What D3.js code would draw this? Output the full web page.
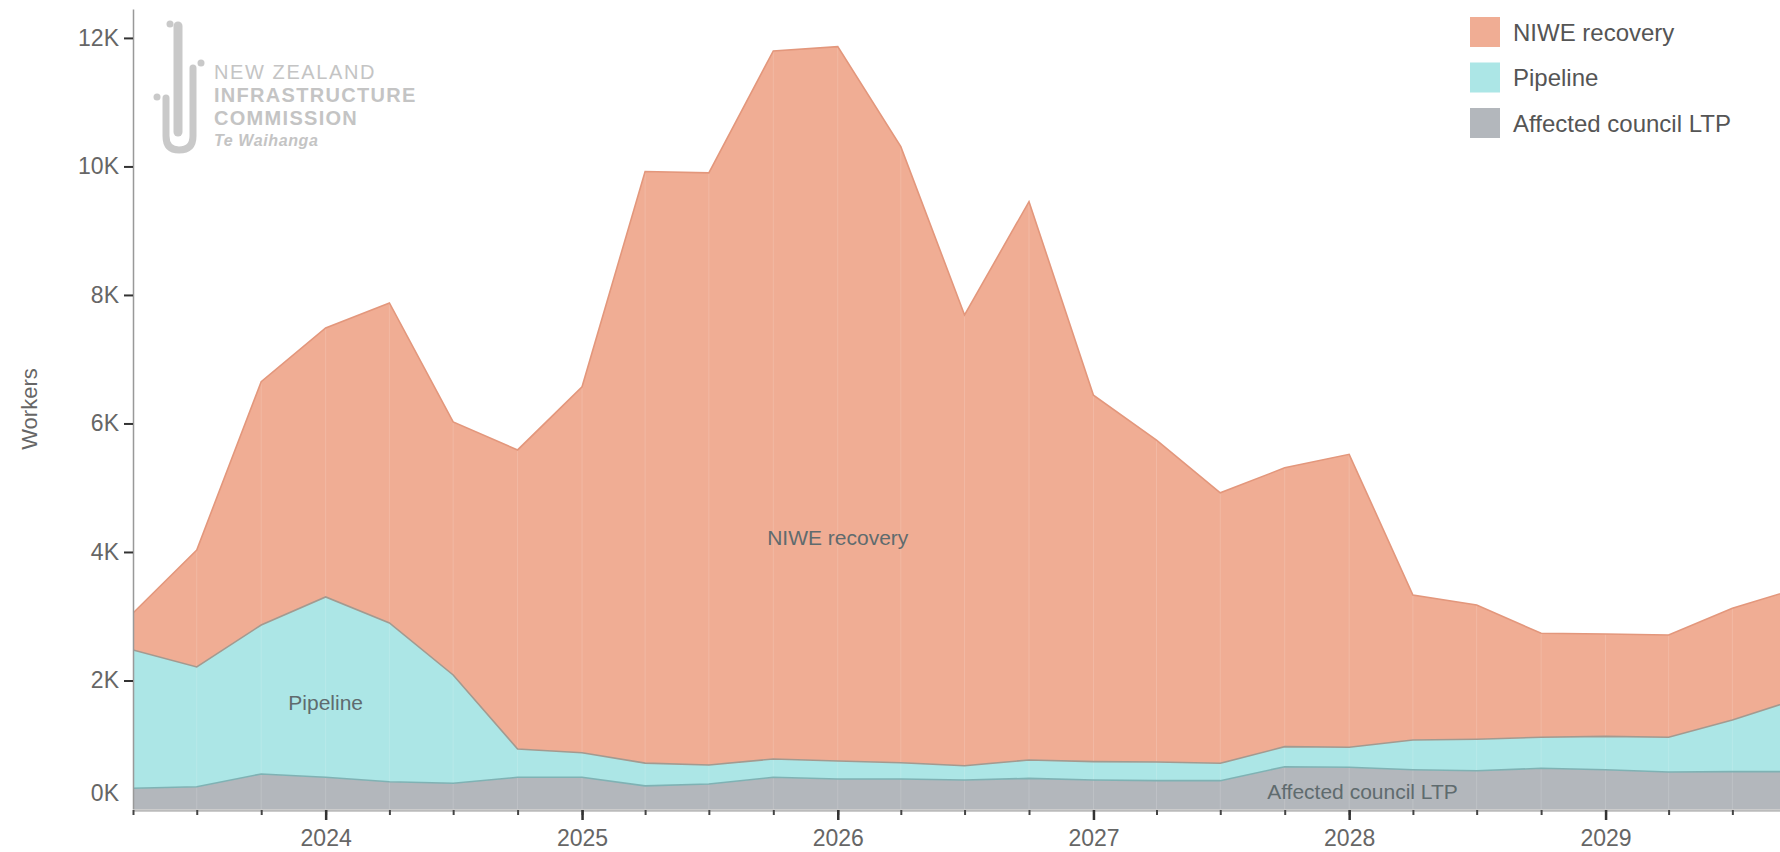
<!DOCTYPE html>
<html>
<head>
<meta charset="utf-8">
<script src="https://cdn.jsdelivr.net/npm/d3@7"></script>
<style>
  body { margin: 0; background: #fff; }
  svg { display: block; font-family: "Liberation Sans", Arial, sans-serif; }
</style>
</head>
<body>
<div id="chart"></div>
<script>
// quarterly data (workers)
const quarters = [
  "2023-04-01", "2023-07-01", "2023-10-01", "2024-01-01", "2024-04-01", "2024-07-01",
  "2024-10-01", "2025-01-01", "2025-04-01", "2025-07-01", "2025-10-01", "2026-01-01",
  "2026-04-01", "2026-07-01", "2026-10-01", "2027-01-01", "2027-04-01", "2027-07-01",
  "2027-10-01", "2028-01-01", "2028-04-01", "2028-07-01", "2028-10-01", "2029-01-01",
  "2029-04-01", "2029-07-01", "2029-10-01"
];
const affectedLTP = [
  322, 347, 545, 493, 425, 400, 493, 493, 360, 389, 493, 467, 467, 451,
  477, 451, 441, 441, 658, 649, 612, 596, 633, 612, 575, 581, 581
];
const pipeline = [
  2153, 1863, 2319, 2807, 2470, 1686, 441, 383, 354, 296, 285, 280, 253, 223,
  286, 286, 291, 270, 312, 311, 462, 489, 483, 518, 541, 804, 1129
];
const niweRecovery = [
  575, 1821, 3786, 4186, 4980, 3937, 4654, 5694, 9206, 9214, 11020, 11118, 9588, 7015,
  8689, 5703, 5008, 4209, 4340, 4560, 2257, 2090, 1618, 1594, 1592, 1739, 1720
];

const seriesKeys = ["Affected council LTP", "Pipeline", "NIWE recovery"];
const legendOrder = ["NIWE recovery", "Pipeline", "Affected council LTP"];
const yTickValues = [0, 2000, 4000, 6000, 8000, 10000, 12000];

// labels inside the areas
const areaLabels = [
  { text: "NIWE recovery", date: "2026-01-01", value: 4220 },
  { text: "Pipeline", date: "2024-01-01", value: 1650 },
  { text: "Affected council LTP", date: "2028-01-20", value: 280 }
];

const colors = {
  "NIWE recovery": "#f0ad94",
  "Pipeline": "#ace6e6",
  "Affected council LTP": "#b3b7bc"
};
const strokes = {
  "NIWE recovery": "#e3977c",
  "Pipeline": "#a39a90",
  "Affected council LTP": "#7fb2b4"
};

const W = 1780, H = 852;
const plotLeft = 133, plotRight = 1780, plotTop = 9, plotBottom = 809;

const parse = d3.timeParse("%Y-%m-%d");
const data = quarters.map((q, i) => ({
  date: parse(q),
  "Affected council LTP": affectedLTP[i],
  "Pipeline": pipeline[i],
  "NIWE recovery": niweRecovery[i]
}));

const svg = d3.select("#chart").append("svg")
  .attr("width", W)
  .attr("height", H);

const x = d3.scaleTime()
  .domain([parse("2023-04-01"), parse("2029-09-07")])
  .range([plotLeft, plotRight]);

const y = d3.scaleLinear()
  .domain([0, 12450])
  .range([plotBottom, plotTop]);

// logo watermark
const logo = svg.append("g").attr("fill", "#c9c9c9").attr("stroke", "#c9c9c9");
logo.append("path")
  .attr("d", "M178,26 L178,132")
  .attr("fill", "none").attr("stroke-width", 9).attr("stroke-linecap", "round");
logo.append("path")
  .attr("d", "M166,98 L166,136 Q166,150 179,150 Q193,150 193,136 L193,68")
  .attr("fill", "none").attr("stroke-width", 7).attr("stroke-linecap", "round");
logo.selectAll("circle")
  .data([[170, 24], [201, 63], [157, 97]])
  .enter().append("circle")
  .attr("cx", d => d[0]).attr("cy", d => d[1]).attr("r", 3.5).attr("stroke", "none");
const logoText = svg.append("g").attr("fill", "#c4c4c4");
logoText.append("text").attr("x", 214).attr("y", 79)
  .style("font-size", "20px").style("letter-spacing", "1.6px")
  .text("NEW ZEALAND");
logoText.append("text").attr("x", 214).attr("y", 102)
  .style("font-size", "20px").style("font-weight", "bold").style("letter-spacing", "1.3px")
  .text("INFRASTRUCTURE");
logoText.append("text").attr("x", 214).attr("y", 125)
  .style("font-size", "20px").style("font-weight", "bold").style("letter-spacing", "1.3px")
  .text("COMMISSION");
logoText.append("text").attr("x", 214).attr("y", 146)
  .style("font-size", "16px").style("font-weight", "bold").style("font-style", "italic")
  .style("letter-spacing", "0.6px")
  .text("Te Waihanga");

// stacked areas
const stack = d3.stack().keys(seriesKeys);
const layers = stack(data);

svg.append("clipPath").attr("id", "plot-clip")
  .append("rect").attr("x", plotLeft).attr("y", 0)
  .attr("width", plotRight - plotLeft).attr("height", plotBottom + 1);

const plot = svg.append("g").attr("clip-path", "url(#plot-clip)");

const area = d3.area()
  .x(d => x(d.data.date))
  .y0(d => y(d[0]))
  .y1(d => y(d[1]));

const topLine = d3.line()
  .x(d => x(d.data.date))
  .y(d => y(d[1]));

plot.selectAll(".layer")
  .data(layers)
  .enter().append("path")
  .attr("class", "layer")
  .attr("d", area)
  .attr("fill", d => colors[d.key]);

// faint seams at each quarter
const totalLayer = layers[layers.length - 1];
plot.selectAll(".seam")
  .data(totalLayer)
  .enter().append("line")
  .attr("class", "seam")
  .attr("x1", d => x(d.data.date)).attr("x2", d => x(d.data.date))
  .attr("y1", y(0)).attr("y2", d => y(d[1]))
  .attr("stroke", "#fff").attr("stroke-opacity", 0.15).attr("stroke-width", 1);

plot.selectAll(".edge")
  .data(layers)
  .enter().append("path")
  .attr("class", "edge")
  .attr("d", topLine)
  .attr("fill", "none")
  .attr("stroke", d => strokes[d.key])
  .attr("stroke-width", 1.6);

// labels on the areas
svg.selectAll(".area-label")
  .data(areaLabels)
  .enter().append("text")
  .attr("class", "area-label")
  .attr("x", d => x(parse(d.date)))
  .attr("y", d => y(d.value))
  .attr("text-anchor", "middle")
  .attr("dominant-baseline", "central")
  .attr("fill", "#5f6b6e")
  .style("font-size", "21px")
  .text(d => d.text);

// y axis
const yAxis = svg.append("g")
  .attr("transform", `translate(${plotLeft},0)`)
  .call(d3.axisLeft(y).tickValues(yTickValues).tickSize(9).tickSizeOuter(0).tickPadding(5)
    .tickFormat(d => (d / 1000) + "K"));
yAxis.select(".domain").attr("stroke", "#999").attr("stroke-width", 1.5);
yAxis.selectAll(".tick line").attr("stroke", "#333").attr("stroke-width", 2);
yAxis.selectAll(".tick text").attr("fill", "#666").style("font-size", "23px")
  .style("font-family", "'Liberation Sans', Arial, sans-serif");
yAxis.selectAll(".tick").filter(d => d === 0).select("line").remove();
yAxis.selectAll(".tick").filter(d => d === 0).select("text").attr("transform", "translate(0,-16)");

// x axis: quarter minor ticks, year major ticks
const xMinor = svg.append("g")
  .attr("transform", `translate(0,${plotBottom + 1})`)
  .call(d3.axisBottom(x).ticks(d3.timeMonth.every(3)).tickSize(5).tickSizeOuter(0).tickFormat(""));
xMinor.select(".domain").attr("stroke", "#bbb").attr("stroke-width", 2.5);
xMinor.selectAll(".tick line").attr("stroke", "#444").attr("stroke-width", 2);

const xMajor = svg.append("g")
  .attr("transform", `translate(0,${plotBottom + 1})`)
  .call(d3.axisBottom(x).ticks(d3.timeYear.every(1)).tickSize(10).tickPadding(10)
    .tickFormat(d3.timeFormat("%Y")));
xMajor.select(".domain").remove();
xMajor.selectAll(".tick line").attr("stroke", "#333").attr("stroke-width", 2.5);
xMajor.selectAll(".tick text").attr("fill", "#666").style("font-size", "23px")
  .style("font-family", "'Liberation Sans', Arial, sans-serif");

// y axis title
svg.append("text")
  .attr("transform", `translate(29,${(plotTop + plotBottom) / 2}) rotate(-90)`)
  .attr("text-anchor", "middle")
  .attr("dominant-baseline", "central")
  .attr("fill", "#666")
  .style("font-size", "22px")
  .text("Workers");

// legend
const legend = svg.append("g").attr("transform", "translate(1470,17)");
const item = legend.selectAll(".item")
  .data(legendOrder)
  .enter().append("g")
  .attr("class", "item")
  .attr("transform", (d, i) => `translate(0,${i * 45.5})`);
item.append("rect")
  .attr("width", 30).attr("height", 30)
  .attr("fill", d => colors[d]);
item.append("text")
  .attr("x", 43).attr("y", 15)
  .attr("dominant-baseline", "central")
  .attr("fill", "#555")
  .style("font-size", "24px")
  .text(d => d);
</script>
</body>
</html>
